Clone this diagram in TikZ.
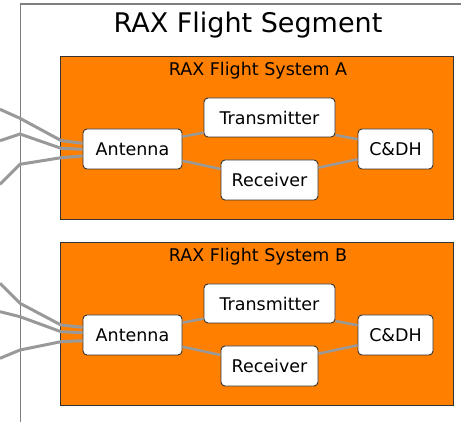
\documentclass[tikz,border=0pt]{standalone}
\usepackage{fontspec}
\setmainfont{DejaVu Sans}
\usetikzlibrary{calc}
\definecolor{raxorange}{HTML}{FF8000}
\definecolor{linkgrey}{HTML}{999999}
\definecolor{edgedark}{HTML}{333333}
\definecolor{framegrey}{HTML}{7F7F7F}
\begin{document}
\begin{tikzpicture}[x=1pt,y=-1pt,
  unit/.style={draw=edgedark,line width=0.9pt,fill=white,rounded corners=4pt,
    inner sep=0pt,font=\fontsize{17.5}{21}\selectfont},
  system/.style={draw=edgedark,line width=0.9pt,fill=raxorange,inner sep=0pt,
    anchor=north west,minimum width=392.7pt,minimum height=163pt},
  segment/.style={draw=framegrey,line width=1.3pt,inner sep=0pt,anchor=north west,
    minimum width=480pt,minimum height=460pt},
  syslabel/.style={font=\fontsize{17.5}{21}\selectfont,anchor=base},
  link/.style={draw=linkgrey,line width=3pt},
  inlink/.style={draw=linkgrey,line width=2.5pt},
]
\useasboundingbox (0,0) rectangle (461,422);

% flight segment frame and title
\node[segment] (seg) at (20,3.3) {};
\node[font=\fontsize{27}{32}\selectfont,anchor=base] (title) at (248,32.5) {RAX Flight Segment};

% the two flight systems
\foreach \s/\dy in {A/0,B/186}{
  \node[system] (sys\s) at (60.3,56+\dy) {};
  \node[syslabel] (lab\s) at (258,76+\dy) {RAX Flight System \s};
  \node[unit,minimum width=99pt,minimum height=40pt] (ant\s) at (132.5,149+\dy) {Antenna};
  \node[unit,minimum width=131pt,minimum height=39pt] (tx\s) at (269.5,117.5+\dy) {Transmitter};
  \node[unit,minimum width=97pt,minimum height=40pt] (rx\s) at (269.5,180+\dy) {Receiver};
  \node[unit,minimum width=75pt,minimum height=40pt] (cdh\s) at (395.5,149+\dy) {C\&DH};
  \draw[inlink] ([yshift=12.3pt]ant\s.east) -- ([yshift=-15.2pt]tx\s.west);
  \draw[inlink] ([yshift=-11.7pt]ant\s.east) -- ([yshift=11pt]rx\s.west);
  \draw[inlink] ([yshift=-17.5pt]tx\s.east) -- ([yshift=9.7pt]cdh\s.west);
  \draw[inlink] ([yshift=12.3pt]rx\s.east) -- ([yshift=-10.3pt]cdh\s.west);
}

% ground links entering system A
\coordinate (ga1) at (0,109.3);
\coordinate (ga2) at (0,140.7);
\coordinate (ga3) at (0,184.3);
\draw[link] (ga1) -- (20,118.3) -- (61,140.5) -- ([yshift=5.7pt]antA.west);
\draw[link] (ga2) -- (20,134) -- (61,148.3) -- ([yshift=-0.3pt]antA.west);
\draw[link] (ga3) -- (20,164.3) -- (61,157.7) -- ([yshift=-7pt]antA.west);

% ground links entering system B
\coordinate (gb1) at (0,283.3);
\coordinate (gb2) at (0,311.7);
\coordinate (gb3) at (0,358.3);
\draw[link] (gb1) -- (20,303.3) -- (61,325) -- ([yshift=7.7pt]antB.west);
\draw[link] (gb2) -- (20,316.7) -- (61,331.7) -- ([yshift=2.3pt]antB.west);
\draw[link] (gb3) -- (20,350) -- (61,341.7) -- ([yshift=-5.7pt]antB.west);
\end{tikzpicture}
\end{document}
